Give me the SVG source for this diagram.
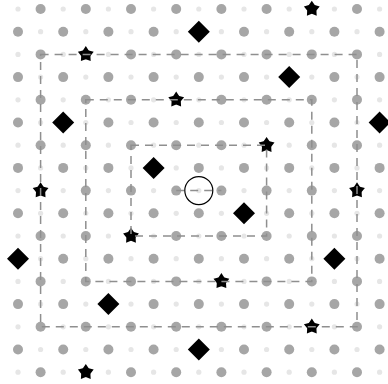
<svg xmlns="http://www.w3.org/2000/svg" xmlns:xlink="http://www.w3.org/1999/xlink" width="388" height="384" viewBox="0 0 388 384">
<style>
.L{fill:#a6a6a6}
.S{fill:#e6e6e6}
.ln{fill:none;stroke:#8f8f8f;stroke-width:1.5;stroke-dasharray:8,6}
.mk{fill:#000}
</style>
<defs>
<g id="rowE">
<circle class="S" cx="18" cy="0" r="2.6"/><circle class="L" cx="40.6" cy="0" r="5"/><circle class="S" cx="63.2" cy="0" r="2.6"/><circle class="L" cx="85.8" cy="0" r="5"/><circle class="S" cx="108.4" cy="0" r="2.6"/><circle class="L" cx="131" cy="0" r="5"/><circle class="S" cx="153.6" cy="0" r="2.6"/><circle class="L" cx="176.2" cy="0" r="5"/><circle class="S" cx="198.8" cy="0" r="2.6"/><circle class="L" cx="221.4" cy="0" r="5"/><circle class="S" cx="244" cy="0" r="2.6"/><circle class="L" cx="266.6" cy="0" r="5"/><circle class="S" cx="289.2" cy="0" r="2.6"/><circle class="L" cx="311.8" cy="0" r="5"/><circle class="S" cx="334.4" cy="0" r="2.6"/><circle class="L" cx="357" cy="0" r="5"/><circle class="S" cx="379.6" cy="0" r="2.6"/>
</g>
<g id="rowO">
<circle class="L" cx="18" cy="0" r="5"/><circle class="S" cx="40.6" cy="0" r="2.6"/><circle class="L" cx="63.2" cy="0" r="5"/><circle class="S" cx="85.8" cy="0" r="2.6"/><circle class="L" cx="108.4" cy="0" r="5"/><circle class="S" cx="131" cy="0" r="2.6"/><circle class="L" cx="153.6" cy="0" r="5"/><circle class="S" cx="176.2" cy="0" r="2.6"/><circle class="L" cx="198.8" cy="0" r="5"/><circle class="S" cx="221.4" cy="0" r="2.6"/><circle class="L" cx="244" cy="0" r="5"/><circle class="S" cx="266.6" cy="0" r="2.6"/><circle class="L" cx="289.2" cy="0" r="5"/><circle class="S" cx="311.8" cy="0" r="2.6"/><circle class="L" cx="334.4" cy="0" r="5"/><circle class="S" cx="357" cy="0" r="2.6"/><circle class="L" cx="379.6" cy="0" r="5"/>
</g>
<path id="star" d="M0,-8.3 L2.9,-3.9 L7.9,-2.6 L4.6,1.5 L4.9,6.7 L0,4.8 L-4.9,6.7 L-4.6,1.5 L-7.9,-2.6 L-2.9,-3.9Z"/>
<path id="dia" d="M0,-11 L11,0 L0,11 L-11,0Z"/>
</defs>
<rect width="388" height="384" fill="#fff"/>
<g id="grid">
<use xlink:href="#rowE" y="9"/><use xlink:href="#rowO" y="31.7"/><use xlink:href="#rowE" y="54.4"/><use xlink:href="#rowO" y="77.1"/><use xlink:href="#rowE" y="99.8"/><use xlink:href="#rowO" y="122.5"/><use xlink:href="#rowE" y="145.2"/><use xlink:href="#rowO" y="167.9"/><use xlink:href="#rowE" y="190.6"/><use xlink:href="#rowO" y="213.3"/><use xlink:href="#rowE" y="236"/><use xlink:href="#rowO" y="258.7"/><use xlink:href="#rowE" y="281.4"/><use xlink:href="#rowO" y="304.1"/><use xlink:href="#rowE" y="326.8"/><use xlink:href="#rowO" y="349.5"/><use xlink:href="#rowE" y="372.2"/>
</g>
<g id="stars" class="mk">
<g id="star1"><use xlink:href="#star" x="311.8" y="9"/></g>
<g id="star2"><use xlink:href="#star" x="85.8" y="54.4"/></g>
<g id="star3"><use xlink:href="#star" x="176.2" y="99.8"/></g>
<g id="star4"><use xlink:href="#star" x="266.6" y="145.2"/></g>
<g id="star5"><use xlink:href="#star" x="40.6" y="190.6"/></g>
<g id="star6"><use xlink:href="#star" x="357" y="190.6"/></g>
<g id="star7"><use xlink:href="#star" x="131" y="236"/></g>
<g id="star8"><use xlink:href="#star" x="221.4" y="281.4"/></g>
<g id="star9"><use xlink:href="#star" x="311.8" y="326.8"/></g>
<g id="star10"><use xlink:href="#star" x="85.8" y="372.2"/></g>
</g>
<g id="diamonds" class="mk">
<g id="dia1"><use xlink:href="#dia" x="198.8" y="31.7"/></g>
<g id="dia2"><use xlink:href="#dia" x="289.2" y="77.1"/></g>
<g id="dia3"><use xlink:href="#dia" x="63.2" y="122.5"/></g>
<g id="dia4"><use xlink:href="#dia" x="379.6" y="122.5"/></g>
<g id="dia5"><use xlink:href="#dia" x="153.6" y="167.9"/></g>
<g id="dia6"><use xlink:href="#dia" x="244" y="213.3"/></g>
<g id="dia7"><use xlink:href="#dia" x="18" y="258.7"/></g>
<g id="dia8"><use xlink:href="#dia" x="334.4" y="258.7"/></g>
<g id="dia9"><use xlink:href="#dia" x="108.4" y="304.1"/></g>
<g id="dia10"><use xlink:href="#dia" x="198.8" y="349.5"/></g>
</g>
<g id="connectors">
<path class="ln" d="M40.6,54.4 H357 V326.8 H40.6 Z"/>
<path class="ln" d="M85.8,99.8 H311.8 V281.4 H85.8 Z"/>
<path class="ln" d="M131,145.2 H266.6 V236 H131 Z"/>
<path class="ln" d="M176.2,190.6 H221.4"/>
</g>
<g id="center">
<circle cx="198.8" cy="190.6" r="14" fill="none" stroke="#000" stroke-width="1.2"/>
</g>
</svg>
